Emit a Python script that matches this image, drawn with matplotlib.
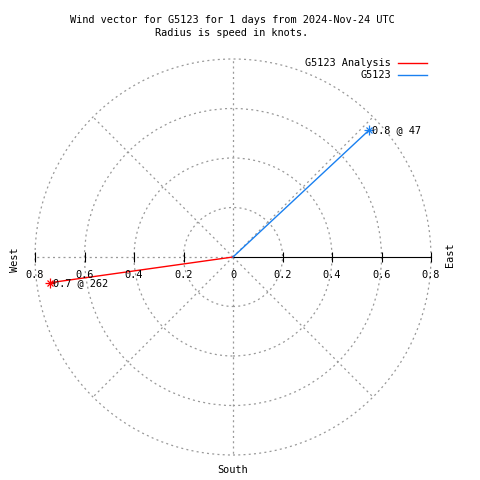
import numpy as np
import matplotlib
matplotlib.use("Agg")
import matplotlib.pyplot as plt
from matplotlib.patches import Circle

# wind vectors: speed (knots), meteorological direction (deg)
series = ["G5123 Analysis", "G5123"]
speeds = [0.747, 0.75]
directions = [262, 47]
colors = ["#ff0000", "#1a80f0"]

rings = [0.2, 0.4, 0.6, 0.8]
tick_labels = ["0.8", "0.6", "0.4", "0.2", "0", "0.2", "0.4", "0.6", "0.8"]
tick_pos = [-0.8, -0.6, -0.4, -0.2, 0, 0.2, 0.4, 0.6, 0.8]

plt.rcParams['font.family'] = ['DejaVu Sans Mono']
fs = 7.4
grid_col = "#999999"
dots = (0, (1.6, 2.6))

fig = plt.figure(figsize=(4.8, 4.8), dpi=100)
ax = fig.add_axes([0, 0, 1, 1])
# pixel based limits: centre at (233, 257), 247.5 px per unit
scale = 247.5
ax.set_xlim(-233 / scale, (480 - 233) / scale)
ax.set_ylim(-(480 - 257) / scale, 257 / scale)
ax.axis('off')

rmax = rings[-1]
for r in rings:
    ax.add_patch(Circle((0, 0), r, fill=False, ec=grid_col, lw=0.9, ls=dots))

# radial grid lines
for a in [45, 90, 135, 180, 225, 270, 315]:
    t = np.deg2rad(a)
    ax.plot([0, rmax * np.cos(t)], [0, rmax * np.sin(t)], color=grid_col, lw=0.9, ls=dots)

# east axis solid
ax.plot([0, rmax], [0, 0], color="black", lw=0.8)
ax.plot([p for p in tick_pos if p != 0], [0] * 8, ls='none', marker='|',
        ms=6.5, mew=0.8, color="black")
for p, lab in zip(tick_pos, tick_labels):
    ax.text(p, -18 / scale, lab, ha='center', va='center', fontsize=fs)

# vectors
for i, (name, s, d, c) in enumerate(zip(series, speeds, directions, colors)):
    th = np.deg2rad(d)
    x, y = s * np.sin(th), s * np.cos(th)
    ax.plot([0, x], [0, y], color=c, lw=1.0)
    ax.plot([x], [y], marker='+', ms=7, mew=0.9, color=c)
    ax.plot([x], [y], marker='x', ms=5, mew=0.9, color=c)
    ax.text(x + 3 / scale, y, "%.1f @ %d" % (s, d), ha='left', va='center', fontsize=fs)
    # legend entry
    ly = 1 - (63 + 12 * i) / 480
    fig.text(391 / 480, ly, name, ha='right', va='center', fontsize=fs)
    fig.lines.append(plt.Line2D([398 / 480, 427 / 480], [ly, ly], color=c, lw=1.0,
                                transform=fig.transFigure))

fig.text(232 / 480, 1 - 20 / 480, "Wind vector for G5123 for 1 days from 2024-Nov-24 UTC",
         ha='center', va='center', fontsize=fs)
fig.text(232 / 480, 1 - 33 / 480, "Radius is speed in knots.",
         ha='center', va='center', fontsize=fs)
fig.text(15 / 480, 1 - 260 / 480, "West", rotation=90, ha='center', va='center', fontsize=fs)
fig.text(450 / 480, 1 - 255 / 480, "East", rotation=90, ha='center', va='center', fontsize=fs)
fig.text(233 / 480, 1 - 470 / 480, "South", ha='center', va='center', fontsize=fs)

plt.savefig("out.png", dpi=100)
